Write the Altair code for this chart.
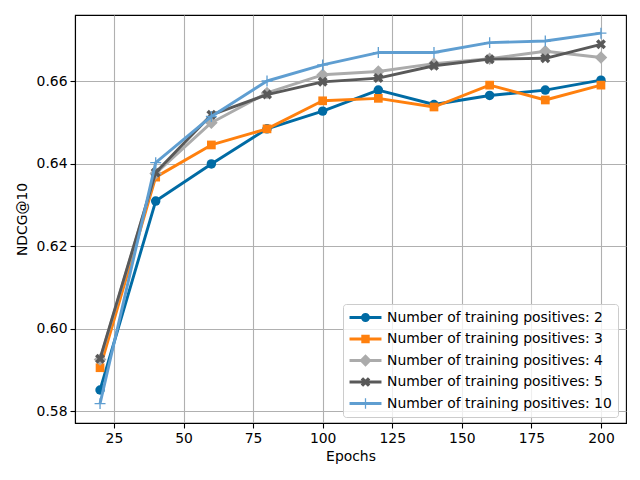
import altair as alt
import pandas as pd

epochs = [20, 40, 60, 80, 100, 120, 140, 160, 180, 200]
series_labels = [
    "Number of training positives: 2",
    "Number of training positives: 3",
    "Number of training positives: 4",
    "Number of training positives: 5",
    "Number of training positives: 10",
]
s2 = [0.5851, 0.6309, 0.6399, 0.6484, 0.6527, 0.6578, 0.6543, 0.6565, 0.6578, 0.6602]
s3 = [0.5905, 0.6367, 0.6445, 0.6484, 0.6552, 0.6558, 0.6537, 0.6590, 0.6554, 0.6590]
s4 = [0.5925, 0.6376, 0.6499, 0.6571, 0.6615, 0.6623, 0.6642, 0.6654, 0.6672, 0.6657]
s5 = [0.5927, 0.6378, 0.6518, 0.6567, 0.6598, 0.6607, 0.6637, 0.6653, 0.6655, 0.6689]
s10 = [0.5818, 0.6402, 0.6514, 0.6600, 0.6639, 0.6669, 0.6669, 0.6693, 0.6697, 0.6716]
x_ticks = [25, 50, 75, 100, 125, 150, 175, 200]
y_ticks = [0.58, 0.60, 0.62, 0.64, 0.66]
colors = ["#006BA4", "#FF800E", "#ABABAB", "#595959", "#5F9ED1"]

all_vals = [s2, s3, s4, s5, s10]
rows = []
for lab, vals in zip(series_labels, all_vals):
    for e, v in zip(epochs, vals):
        rows.append({"epoch": e, "ndcg": v, "series": lab})
df = pd.DataFrame(rows)


def poly(pts, k=1.0):
    return "M" + "L".join(f"{px*k:.3f},{py*k:.3f}" for px, py in pts) + "Z"


x_pts = [(-1, -0.5), (-0.5, -1), (0, -0.5), (0.5, -1), (1, -0.5), (0.5, 0), (1, 0.5), (0.5, 1),
         (0, 0.5), (-0.5, 1), (-1, 0.5), (-0.5, 0)]
plus_pts = [(-1, -0.12), (-0.12, -0.12), (-0.12, -1), (0.12, -1), (0.12, -0.12), (1, -0.12),
            (1, 0.12), (0.12, 0.12), (0.12, 1), (-0.12, 1), (-0.12, 0.12), (-1, 0.12)]
X_PATH = poly(x_pts)
PLUS_PATH = poly(plus_pts)
markers = [("circle", 90), ("square", 76), ("diamond", 160), (X_PATH, 100), (PLUS_PATH, 120)]

# legend symbols: box of 15px (size 225) -> 1 unit = 7.5px; line spans ~32px
BAR = "M-2.13,-0.2H2.13V0.2H-2.13Z"
legend_paths = [
    BAR + "M-0.6,0A0.6,0.6 0 1,1 0.6,0A0.6,0.6 0 1,1 -0.6,0Z",
    BAR + "M-0.56,-0.56H0.56V0.56H-0.56Z",
    BAR + "M0,-0.82L0.82,0L0,0.82L-0.82,0Z",
    BAR + poly(x_pts, 0.64),
    BAR + poly([(px * 0.7, py * (0.7 if abs(py) > 0.5 else 0.45)) for px, py in plus_pts]),
]

legend = alt.Legend(
    title=None,
    orient="none",
    legendX=268,
    legendY=289,
    padding=6,
    fillColor="rgba(255,255,255,0.8)",
    strokeColor="#cccccc",
    cornerRadius=3,
    labelFont="DejaVu Sans",
    labelFontSize=13.9,
    labelColor="black",
    labelLimit=400,
    labelOffset=14,
    symbolOffset=9,
    symbolSize=225,
    symbolStrokeWidth=0,
    symbolOpacity=1,
    rowPadding=6.5,
)

x = alt.X(
    "epoch:Q",
    scale=alt.Scale(domain=[11, 209], nice=False, zero=False),
    axis=alt.Axis(values=x_ticks, title="Epochs"),
)
y = alt.Y(
    "ndcg:Q",
    scale=alt.Scale(domain=[0.5771, 0.6760], nice=False, zero=False),
    axis=alt.Axis(values=y_ticks, format=".2f", title="NDCG@10"),
)
color_scale = alt.Scale(domain=series_labels, range=colors)
color_nolegend = alt.Color("series:N", scale=color_scale, legend=None)

# legend-only layer (invisible marks), drawn first
legend_layer = (
    alt.Chart(df)
    .mark_point(filled=True, strokeWidth=0)
    .encode(
        x=x,
        y=y,
        color=alt.Color("series:N", scale=color_scale, legend=legend),
        shape=alt.Shape("series:N", scale=alt.Scale(domain=series_labels, range=legend_paths), legend=legend),
        opacity=alt.value(0),
    )
)
layers = [legend_layer]
for lab, (shape, size) in zip(series_labels, markers):
    base = alt.Chart(df).transform_filter(alt.datum.series == lab)
    layers.append(base.mark_line(strokeWidth=2.9, strokeJoin="round").encode(x=x, y=y, color=color_nolegend))
    layers.append(
        base.mark_point(shape=shape, size=size, filled=True, opacity=1, strokeWidth=0).encode(
            x=x, y=y, color=color_nolegend
        )
    )

chart = (
    alt.layer(*layers)
    .properties(
        width=551,
        height=408,
        autosize="none",
        padding={"left": 67, "top": 7, "right": 6, "bottom": 49},
    )
    .configure(font="DejaVu Sans")
    .configure_view(stroke="black", strokeWidth=1.1)
    .configure_axis(
        labelFont="DejaVu Sans",
        titleFont="DejaVu Sans",
        labelFontSize=13.9,
        titleFontSize=13.9,
        titleFontWeight="normal",
        labelColor="black",
        titleColor="black",
        domainColor="black",
        domainWidth=1.1,
        tickColor="black",
        tickWidth=1.1,
        tickSize=5,
        labelPadding=3,
        gridColor="#b0b0b0",
        gridWidth=1.1,
    )
    .configure_axisY(titlePadding=7)
    .configure_axisX(titlePadding=5)
)

chart.save("out.html", embed_options={"renderer": "svg", "actions": False})
